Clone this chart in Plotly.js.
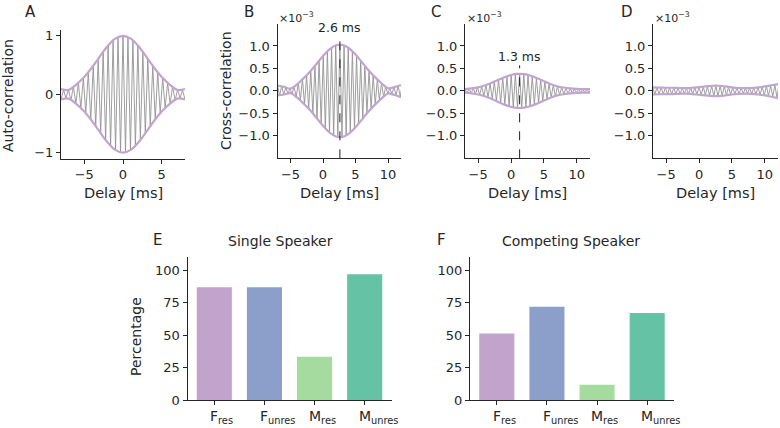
<!DOCTYPE html>
<html>
<head>
<meta charset="utf-8">
<script src="https://cdn.plot.ly/plotly-3.0.1.min.js"></script>
<style>
  html, body { margin: 0; padding: 0; background: #fff; }
  #chart { width: 780px; height: 428px; }
</style>
</head>
<body>
<div id="chart"></div>
<script>
// ---- Panel A: auto-correlation (peak / trough vertices of the waveform) ----
const delayA = [-8.0,-7.68,-7.36,-7.04,-6.72,-6.4,-6.08,-5.76,-5.44,-5.12,-4.8,-4.48,-4.16,-3.84,-3.52,-3.2,-2.88,-2.56,-2.24,-1.92,-1.6,-1.28,-0.96,-0.64,-0.32,0,
  0.32,0.64,0.96,1.28,1.6,1.92,2.24,2.56,2.88,3.2,3.52,3.84,4.16,4.48,4.8,5.12,5.44,5.76,6.08,6.4,6.72,7.04,7.36,7.68,8.0];
const autoCorr = [-0.09,0.072,-0.065,0.08,-0.108,0.136,-0.165,0.198,-0.236,0.278,-0.325,0.376,-0.43,0.487,-0.546,0.607,-0.667,0.726,-0.783,0.835,-0.883,0.923,-0.956,0.98,-0.995,1.0,
  -0.995,0.98,-0.956,0.923,-0.883,0.835,-0.783,0.726,-0.667,0.607,-0.546,0.487,-0.43,0.376,-0.325,0.278,-0.236,0.198,-0.165,0.136,-0.108,0.08,-0.065,0.072,-0.09];
const envDelayA = [-8,-7,-6,-5,-4,-3,-2,-1,0,1,2,3,4,5,6,7,8];
const envUpperA = [0.09,0.075,0.17,0.295,0.458,0.645,0.823,0.952,1.0,0.952,0.823,0.645,0.458,0.295,0.17,0.075,0.09];
const envLowerA = [-0.09,-0.075,-0.17,-0.295,-0.458,-0.645,-0.823,-0.952,-1.0,-0.952,-0.823,-0.645,-0.458,-0.295,-0.17,-0.075,-0.09];

// ---- Panel B: cross-correlation, attended (units of 1e-3) ----
const delayB = [-7.0,-6.68,-6.36,-6.04,-5.72,-5.4,-5.08,-4.76,-4.44,-4.12,-3.8,-3.48,-3.16,-2.84,-2.52,-2.2,-1.88,-1.56,-1.24,-0.92,-0.6,-0.28,0.04,0.36,0.68,1.0,1.32,1.64,1.96,2.28,2.6,
  2.92,3.24,3.56,3.88,4.2,4.52,4.84,5.16,5.48,5.8,6.12,6.44,6.76,7.08,7.4,7.72,8.04,8.36,8.68,9.0,9.32,9.64,9.96,10.28,10.6,10.92,11.24,11.56,11.88,12.2];
const crossCorrB = [0.12,-0.105,0.105,-0.085,0.075,-0.06,0.05,-0.06,0.09,-0.13,0.17,-0.21,0.258,-0.30,0.345,-0.394,0.446,-0.501,0.557,-0.615,0.672,-0.729,0.783,-0.835,0.883,-0.926,0.962,-0.991,1.013,-1.026,1.03,
  -1.026,1.013,-0.991,0.962,-0.926,0.883,-0.835,0.783,-0.729,0.672,-0.615,0.557,-0.501,0.446,-0.394,0.345,-0.30,0.258,-0.21,0.17,-0.13,0.09,-0.06,0.055,-0.065,0.08,-0.095,0.11,-0.125,0.135];
const envDelayBCD = [-7,-6,-5,-4,-3,-2,-1,0,1,2,3,4,5,6,7,8,9,10,11,12];
const envUpperB = [0.12,0.09,0.05,0.145,0.279,0.426,0.600,0.777,0.926,1.015,1.023,0.949,0.810,0.636,0.460,0.306,0.17,0.058,0.085,0.128];
const envLowerB = [-0.10,-0.08,-0.05,-0.145,-0.279,-0.426,-0.600,-0.777,-0.926,-1.015,-1.023,-0.949,-0.810,-0.636,-0.460,-0.306,-0.17,-0.058,-0.09,-0.14];
const lagB = 2.6;
const lagLineB = [-1.5, 1.22];

// ---- Panel C: cross-correlation, ignored ----
const delayC = [-7.02,-6.7,-6.38,-6.06,-5.74,-5.42,-5.1,-4.78,-4.46,-4.14,-3.82,-3.5,-3.18,-2.86,-2.54,-2.22,-1.9,-1.58,-1.26,-0.94,-0.62,-0.3,0.02,0.34,0.66,0.98,1.3,
  1.62,1.94,2.26,2.58,2.9,3.22,3.54,3.86,4.18,4.5,4.82,5.14,5.46,5.78,6.1,6.42,6.74,7.06,7.38,7.7,8.02,8.34,8.66,8.98,9.3,9.62,9.94,10.26,10.58,10.9,11.22,11.54,11.86,12.18];
const crossCorrC = [0.04,-0.045,0.05,-0.055,0.06,-0.07,0.08,-0.09,0.10,-0.115,0.13,-0.146,0.165,-0.185,0.206,-0.227,0.248,-0.269,0.289,-0.308,0.326,-0.342,0.355,-0.366,0.374,-0.378,0.38,
  -0.378,0.374,-0.366,0.355,-0.342,0.326,-0.308,0.289,-0.269,0.248,-0.227,0.206,-0.185,0.165,-0.146,0.13,-0.115,0.10,-0.09,0.08,-0.07,0.06,-0.055,0.05,-0.045,0.04,-0.04,0.04,-0.04,0.04,-0.04,0.04,-0.04,0.04];
const envUpperC = [0.04,0.055,0.08,0.12,0.176,0.241,0.305,0.354,0.379,0.372,0.337,0.280,0.215,0.151,0.10,0.075,0.055,0.045,0.04,0.04];
const envLowerC = [-0.04,-0.055,-0.08,-0.12,-0.176,-0.241,-0.305,-0.354,-0.379,-0.372,-0.337,-0.280,-0.215,-0.151,-0.10,-0.075,-0.055,-0.045,-0.04,-0.04];
const lagC = 1.3;
const lagLineC = [-1.5, 0.57];

// ---- Panel D: cross-correlation, control ----
const delayD = [-7.04,-6.72,-6.4,-6.08,-5.76,-5.44,-5.12,-4.8,-4.48,-4.16,-3.84,-3.52,-3.2,-2.88,-2.56,-2.24,-1.92,-1.6,-1.28,-0.96,-0.64,-0.32,0,
  0.32,0.64,0.96,1.28,1.6,1.92,2.24,2.56,2.88,3.2,3.52,3.84,4.16,4.48,4.8,5.12,5.44,5.76,6.08,6.4,6.72,7.04,7.36,7.68,8.0,8.32,8.64,8.96,9.28,9.6,9.92,10.24,10.56,10.88,11.2,11.52,11.84,12.16];
const crossCorrD = [0.08,-0.079,0.077,-0.075,0.074,-0.072,0.07,-0.07,0.07,-0.07,0.069,-0.068,0.066,-0.065,0.063,-0.061,0.06,-0.064,0.067,-0.071,0.075,-0.08,0.085,
  -0.09,0.095,-0.10,0.104,-0.109,0.114,-0.115,0.115,-0.115,0.112,-0.107,0.103,-0.097,0.09,-0.084,0.078,-0.073,0.068,-0.065,0.063,-0.061,0.06,-0.062,0.063,-0.065,0.07,-0.075,0.08,-0.086,0.092,-0.098,0.106,-0.114,0.122,-0.13,0.138,-0.146,0.154];
const envUpperD = [0.08,0.075,0.07,0.07,0.065,0.06,0.07,0.085,0.10,0.115,0.115,0.10,0.08,0.065,0.06,0.065,0.08,0.10,0.125,0.15];
const envLowerD = [-0.08,-0.075,-0.07,-0.07,-0.065,-0.06,-0.07,-0.085,-0.10,-0.115,-0.115,-0.10,-0.08,-0.065,-0.06,-0.065,-0.08,-0.10,-0.13,-0.16];

// ---- Panels E / F: percentage of participants ----
const groups = ['F<sub>res</sub>', 'F<sub>unres</sub>', 'M<sub>res</sub>', 'M<sub>unres</sub>'];
const groupPos = [0, 1, 2, 3];
const singleSpeaker = [86.7, 86.7, 33.3, 96.7];
const competingSpeaker = [51.1, 71.8, 11.7, 67.0];
const groupColors = ['#c2a3cc', '#8c9fca', '#a6dba0', '#66c2a5'];

// ---- styling helpers ----
const W = 780, H = 428;
const fx = p => p / W;
const fy = p => 1 - p / H;
const INK = '#262626';
const FONT = '"DejaVu Sans", sans-serif';
const ENV = '#c2a5cf';
const WAVE = '#939393';

function axis(extra) {
  return Object.assign({
    showline: true, linecolor: INK, linewidth: 1,
    ticks: 'outside', ticklen: 4, tickwidth: 1, tickcolor: INK,
    showgrid: false, zeroline: false, fixedrange: true,
    tickfont: { family: FONT, size: 13, color: INK }
  }, extra);
}

function corrTraces(xa, ya, delay, wave, envX, up, lo) {
  return [
    { x: delay, y: wave, xaxis: xa, yaxis: ya, type: 'scatter', mode: 'lines',
      line: { color: WAVE, width: 0.9 }, hoverinfo: 'skip', showlegend: false },
    { x: envX, y: up, xaxis: xa, yaxis: ya, type: 'scatter', mode: 'lines',
      line: { color: ENV, width: 2.2, shape: 'spline', smoothing: 1 }, hoverinfo: 'skip', showlegend: false },
    { x: envX, y: lo, xaxis: xa, yaxis: ya, type: 'scatter', mode: 'lines',
      line: { color: ENV, width: 2.2, shape: 'spline', smoothing: 1 }, hoverinfo: 'skip', showlegend: false }
  ];
}

const traces = [
  ...corrTraces('x', 'y', delayA, autoCorr, envDelayA, envUpperA, envLowerA),
  ...corrTraces('x2', 'y2', delayB, crossCorrB, envDelayBCD, envUpperB, envLowerB),
  { x: [lagB, lagB], y: lagLineB, xaxis: 'x2', yaxis: 'y2', type: 'scatter', mode: 'lines',
    line: { color: '#222', width: 1, dash: 'dash' }, hoverinfo: 'skip', showlegend: false },
  ...corrTraces('x3', 'y3', delayC, crossCorrC, envDelayBCD, envUpperC, envLowerC),
  { x: [lagC, lagC], y: lagLineC, xaxis: 'x3', yaxis: 'y3', type: 'scatter', mode: 'lines',
    line: { color: '#222', width: 1, dash: 'dash' }, hoverinfo: 'skip', showlegend: false },
  ...corrTraces('x4', 'y4', delayD, crossCorrD, envDelayBCD, envUpperD, envLowerD),
  { x: groupPos, y: singleSpeaker, xaxis: 'x5', yaxis: 'y5', type: 'bar', width: 0.7,
    marker: { color: groupColors, line: { width: 0 } }, hoverinfo: 'skip', showlegend: false },
  { x: groupPos, y: competingSpeaker, xaxis: 'x6', yaxis: 'y6', type: 'bar', width: 0.7,
    marker: { color: groupColors, line: { width: 0 } }, hoverinfo: 'skip', showlegend: false }
];

const yTop = [fy(158.3), fy(23.5)];
const corrTicks = { tickvals: [-1, -0.5, 0, 0.5, 1], tickformat: '.1f' };
const delayTicks = { tickvals: [-5, 0, 5, 10] };
const barY = [fy(400), fy(257)];
// group names are placed as annotations so the capital letter sits on the tick
const barX = { range: [-0.535, 3.535], tickvals: groupPos, showticklabels: false };
const pctTicks = { range: [0, 110], tickvals: [0, 25, 50, 75, 100] };

function text(t, x, y, size, extra) {
  return Object.assign({ text: t, xref: 'paper', yref: 'paper', x: fx(x), y: fy(y),
    xanchor: 'center', yanchor: 'middle', showarrow: false,
    font: { family: FONT, size: size, color: INK } }, extra || {});
}

function groupLabels(xref) {
  return groups.map((g, i) => ({
    text: g, xref: xref, yref: 'paper', x: groupPos[i], y: fy(406),
    xanchor: 'left', yanchor: 'top', xshift: g.charAt(0) === 'M' ? -8 : -6,
    showarrow: false, font: { family: FONT, size: 14, color: INK }
  }));
}

const annotations = [
  text('A', 31, 12, 15), text('B', 249, 12, 15), text('C', 436, 12, 15), text('D', 627, 12, 15),
  text('E', 157.5, 240, 15), text('F', 441, 240, 15),
  text('Auto-correlation', 8, 96, 14, { textangle: -90 }),
  text('Cross-correlation', 226, 91, 14, { textangle: -90 }),
  text('Percentage', 136, 337, 14, { textangle: -90 }),
  text('Delay [ms]', 123, 193, 14.5), text('Delay [ms]', 339, 193, 14.5),
  text('Delay [ms]', 527.5, 193, 14.5), text('Delay [ms]', 715.5, 193, 14.5),
  text('×10<sup>−3</sup>', 277, 18, 11, { xanchor: 'left' }),
  text('×10<sup>−3</sup>', 465, 18, 11, { xanchor: 'left' }),
  text('×10<sup>−3</sup>', 653, 18, 11, { xanchor: 'left' }),
  text('Single Speaker', 280, 241, 14),
  text('Competing Speaker', 571, 241, 14),
  { text: lagB + ' ms', xref: 'x2', yref: 'y2', x: lagB, y: 1.42, showarrow: false,
    xanchor: 'center', yanchor: 'middle', font: { family: FONT, size: 12.5, color: INK } },
  { text: lagC + ' ms', xref: 'x3', yref: 'y3', x: lagC, y: 0.76, showarrow: false,
    xanchor: 'center', yanchor: 'middle', font: { family: FONT, size: 12.5, color: INK } },
  ...groupLabels('x5'),
  ...groupLabels('x6')
];

const layout = {
  width: W, height: H,
  margin: { l: 0, r: 0, t: 0, b: 0 },
  paper_bgcolor: '#fff', plot_bgcolor: 'rgba(0,0,0,0)',
  font: { family: FONT, color: INK },
  showlegend: false,
  xaxis:  axis({ domain: [fx(61), fx(185)], range: [-8, 8], tickvals: [-5, 0, 5], anchor: 'y' }),
  yaxis:  axis({ domain: [fy(158.5), fy(30)], range: [-1.1, 1.1], tickvals: [-1, 0, 1], anchor: 'x' }),
  xaxis2: axis(Object.assign({ domain: [fx(277.5), fx(401)], range: [-7, 12], anchor: 'y2' }, delayTicks)),
  yaxis2: axis(Object.assign({ domain: yTop, range: [-1.5, 1.5], anchor: 'x2' }, corrTicks)),
  xaxis3: axis(Object.assign({ domain: [fx(465), fx(590)], range: [-7, 12], anchor: 'y3' }, delayTicks)),
  yaxis3: axis(Object.assign({ domain: yTop, range: [-1.5, 1.5], anchor: 'x3' }, corrTicks)),
  xaxis4: axis(Object.assign({ domain: [fx(653), fx(778)], range: [-7, 12], anchor: 'y4' }, delayTicks)),
  yaxis4: axis(Object.assign({ domain: yTop, range: [-1.5, 1.5], anchor: 'x4' }, corrTicks)),
  xaxis5: axis(Object.assign({ domain: [fx(187.5), fx(391.5)], anchor: 'y5' }, barX)),
  yaxis5: axis(Object.assign({ domain: barY, anchor: 'x5' }, pctTicks)),
  xaxis6: axis(Object.assign({ domain: [fx(470), fx(674)], anchor: 'y6' }, barX)),
  yaxis6: axis(Object.assign({ domain: barY, anchor: 'x6' }, pctTicks)),
  annotations: annotations
};

Plotly.newPlot('chart', traces, layout, { staticPlot: true, displayModeBar: false });
</script>
</body>
</html>
